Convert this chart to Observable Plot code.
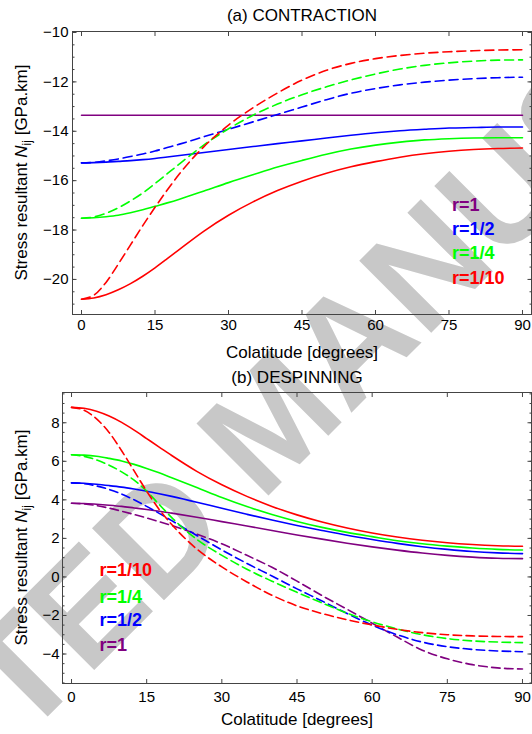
<!DOCTYPE html>
<html><head><meta charset="utf-8">
<script src="https://cdn.jsdelivr.net/npm/d3@7"></script>
<script src="https://cdn.jsdelivr.net/npm/@observablehq/plot@0.6"></script>
<style>
body{margin:0;background:#fff;}
#page{position:relative;width:532px;height:734px;overflow:hidden;font-family:"Liberation Sans",Arial,sans-serif;}
#wm{position:absolute;left:272px;top:420px;transform:translate(-50%,-50%) rotate(-45deg);white-space:nowrap;font:bold 148px "Liberation Sans",Arial,sans-serif;color:#c8c8c8;line-height:1;z-index:0;}
#pa,#pb{position:absolute;left:0;z-index:1;}
#pa{top:0}
#pb{top:365px}
</style></head><body>
<div id="page"><div id="wm">ACCEPTED MANUSCRIPT</div><div id="pa"></div><div id="pb"></div></div>
<script>
// colatitude grid (degrees)
const colat = [0,2.5,5,7.5,10,12.5,15,17.5,20,25,30,35,40,45,50,55,60,65,70,75,80,85,90];

// (a) CONTRACTION
const aSolid_r1    = [-13.35,-13.35,-13.35,-13.35,-13.35,-13.35,-13.35,-13.35,-13.35,-13.35,-13.35,-13.35,-13.35,-13.35,-13.35,-13.35,-13.35,-13.35,-13.35,-13.35,-13.35,-13.35,-13.35];
const aSolid_r1_2  = [-15.28,-15.27,-15.25,-15.22,-15.19,-15.15,-15.10,-15.04,-14.98,-14.86,-14.74,-14.62,-14.50,-14.39,-14.27,-14.16,-14.06,-13.98,-13.92,-13.87,-13.85,-13.83,-13.83];
const aSolid_r1_4  = [-17.52,-17.50,-17.46,-17.40,-17.30,-17.18,-17.04,-16.90,-16.75,-16.42,-16.08,-15.76,-15.45,-15.18,-14.93,-14.72,-14.56,-14.44,-14.35,-14.30,-14.27,-14.26,-14.26];
const aSolid_r1_10 = [-20.80,-20.75,-20.62,-20.42,-20.17,-19.87,-19.53,-19.16,-18.78,-18.04,-17.40,-16.86,-16.40,-16.02,-15.70,-15.44,-15.23,-15.05,-14.91,-14.81,-14.74,-14.70,-14.68];
const aDash_r1_2   = [-15.28,-15.26,-15.20,-15.12,-15.02,-14.92,-14.80,-14.66,-14.52,-14.22,-13.92,-13.62,-13.32,-13.02,-12.72,-12.46,-12.27,-12.12,-12.01,-11.93,-11.87,-11.83,-11.81];
const aDash_r1_4   = [-17.52,-17.47,-17.32,-17.10,-16.82,-16.50,-16.12,-15.72,-15.32,-14.55,-13.90,-13.35,-12.90,-12.52,-12.20,-11.92,-11.68,-11.48,-11.33,-11.23,-11.16,-11.12,-11.11];
const aDash_r1_10  = [-20.80,-20.64,-20.12,-19.38,-18.60,-17.82,-17.08,-16.38,-15.72,-14.62,-13.75,-13.05,-12.45,-11.93,-11.53,-11.25,-11.06,-10.93,-10.84,-10.78,-10.74,-10.71,-10.70];

// (b) DESPINNING
const bSolid_r1    = [3.82,3.81,3.77,3.72,3.66,3.58,3.50,3.41,3.31,3.10,2.87,2.64,2.41,2.18,1.96,1.75,1.56,1.39,1.24,1.12,1.03,0.97,0.95];
const bSolid_r1_2  = [4.88,4.86,4.81,4.74,4.66,4.56,4.45,4.32,4.18,3.88,3.56,3.25,2.95,2.67,2.41,2.16,1.94,1.74,1.57,1.43,1.32,1.25,1.21];
const bSolid_r1_4  = [6.34,6.32,6.26,6.15,6.02,5.84,5.63,5.40,5.15,4.64,4.12,3.65,3.24,2.88,2.57,2.31,2.09,1.88,1.72,1.60,1.50,1.43,1.40];
const bSolid_r1_10 = [8.80,8.75,8.60,8.35,8.02,7.62,7.18,6.74,6.30,5.48,4.78,4.18,3.66,3.22,2.85,2.54,2.28,2.07,1.90,1.77,1.68,1.62,1.59];
const bDash_r1     = [3.82,3.79,3.70,3.57,3.41,3.24,3.06,2.87,2.67,2.22,1.72,1.12,0.50,-0.22,-0.97,-1.68,-2.40,-3.12,-3.80,-4.25,-4.55,-4.72,-4.78];
const bDash_r1_2   = [4.88,4.84,4.72,4.54,4.30,4.00,3.66,3.30,2.92,2.15,1.40,0.70,0.05,-0.62,-1.25,-1.90,-2.50,-3.00,-3.38,-3.62,-3.76,-3.84,-3.88];
const bDash_r1_4   = [6.34,6.26,6.07,5.80,5.45,5.02,4.45,3.76,3.08,1.95,1.12,0.40,-0.22,-0.80,-1.35,-1.88,-2.33,-2.70,-3.00,-3.20,-3.32,-3.38,-3.41];
const bDash_r1_10  = [8.80,8.65,8.20,7.50,6.55,5.50,4.45,3.50,2.72,1.45,0.52,-0.26,-0.95,-1.50,-1.90,-2.22,-2.49,-2.72,-2.89,-3.00,-3.06,-3.09,-3.10];

// series names & colours
const rNames  = ["r=1","r=1/2","r=1/4","r=1/10"];
const rColors = ["#800080","#0000ff","#00ff00","#ff0000"];

// in-plot labels
const legendALabels = ["r=1","r=1/2","r=1/4","r=1/10"];
const legendAY      = [-17.0,-17.98,-18.95,-19.96];
const legendAX      = [75.6,75.6,75.6,75.6];
const legendBLabels = ["r=1/10","r=1/4","r=1/2","r=1"];
const legendBY      = [0.36,-1.06,-2.27,-3.56];
const legendBX      = [5.6,5.6,5.6,5.6];

// ticks
const xTicks  = [0,15,30,45,60,75,90];
const yTicksA = [-20,-18,-16,-14,-12,-10];
const yTicksB = [-4,-2,0,2,4,6,8];

function rows(arrs){
  const out=[];
  arrs.forEach(([name,vals])=>vals.forEach((v,i)=>out.push({x:colat[i],y:v,r:name})));
  return out;
}
const solidA = rows([["r=1",aSolid_r1],["r=1/2",aSolid_r1_2],["r=1/4",aSolid_r1_4],["r=1/10",aSolid_r1_10]]);
const dashA  = rows([["r=1/2",aDash_r1_2],["r=1/4",aDash_r1_4],["r=1/10",aDash_r1_10]]);
const solidB = rows([["r=1",bSolid_r1],["r=1/2",bSolid_r1_2],["r=1/4",bSolid_r1_4],["r=1/10",bSolid_r1_10]]);
const dashB  = rows([["r=1",bDash_r1],["r=1/2",bDash_r1_2],["r=1/4",bDash_r1_4],["r=1/10",bDash_r1_10]]);
const legA = legendALabels.map((t,i)=>({x:legendAX[i],y:legendAY[i],r:t}));
const legB = legendBLabels.map((t,i)=>({x:legendBX[i],y:legendBY[i],r:t}));

const FONT = "Liberation Sans, Arial, sans-serif";
const FRAME = "#444";

function panel({title, solid, dash, leg, xDomain, yDomain, yTicks, height, mt, mb, ml, titleDy, xlabDy, xPad, yPad, dashArr}){
  const yMinor = d3.range(Math.ceil(yDomain[0]*2)/2, yDomain[1], 0.5);
  const svg = Plot.plot({
    width:532, height, marginTop:mt, marginBottom:mb, marginLeft:ml, marginRight:1,
    style:{background:"transparent", fontFamily:FONT, color:"black"},
    x:{domain:xDomain}, y:{domain:yDomain},
    color:{domain:rNames, range:rColors},
    marks:[
      Plot.line(solid,{x:"x",y:"y",z:"r",stroke:"r",strokeWidth:1.6,curve:"monotone-x"}),
      Plot.line(dash,{x:"x",y:"y",z:"r",stroke:"r",strokeWidth:1.6,curve:"monotone-x",strokeDasharray:dashArr}),
      Plot.text(leg,{x:"x",y:"y",text:"r",fill:"r",textAnchor:"start",lineAnchor:"middle",fontWeight:"bold",fontSize:18}),
      Plot.frame({stroke:FRAME,strokeWidth:1}),
      // ticks inside the frame
      Plot.axisX({anchor:"bottom",ticks:xTicks,tickSize:4,dy:-4,text:null,label:null,stroke:FRAME}),
      Plot.axisX({anchor:"top",ticks:xTicks,tickSize:4,dy:4,text:null,label:null,stroke:FRAME}),
      Plot.axisY({anchor:"left",ticks:yTicks,tickSize:4.5,dx:4.5,text:null,label:null,stroke:FRAME}),
      Plot.axisY({anchor:"left",ticks:yMinor,tickSize:2.5,dx:2.5,text:null,label:null,stroke:FRAME}),
      Plot.axisY({anchor:"right",ticks:yTicks,tickSize:4.5,dx:-4.5,text:null,label:null,stroke:FRAME}),
      Plot.axisY({anchor:"right",ticks:yMinor,tickSize:2.5,dx:-2.5,text:null,label:null,stroke:FRAME}),
      // tick labels
      Plot.axisX({anchor:"bottom",ticks:xTicks,tickSize:0,tickPadding:xPad,fontSize:15,label:null}),
      Plot.axisY({anchor:"left",ticks:yTicks,tickSize:0,tickPadding:yPad,fontSize:15,label:null}),
      // title and x label
      Plot.text([title],{frameAnchor:"top",lineAnchor:"bottom",dy:titleDy,fontSize:17}),
      Plot.text(["Colatitude [degrees]"],{frameAnchor:"bottom",lineAnchor:"bottom",dy:xlabDy,fontSize:17})
    ]
  });
  const cy = mt + (height - mt - mb)/2;
  const t = d3.select(svg).append("text")
    .attr("transform",`translate(27,${cy}) rotate(-90)`)
    .attr("text-anchor","middle").attr("font-size",17).attr("fill","black")
    .attr("font-family",FONT);
  t.append("tspan").text("Stress resultant ");
  t.append("tspan").attr("font-style","italic").text("N");
  t.append("tspan").attr("font-size",12).attr("dy",4).text("ij");
  t.append("tspan").attr("dy",-4).text(" [GPa.km]");
  return svg;
}

document.getElementById("pa").append(panel({
  title:"(a) CONTRACTION", solid:solidA, dash:dashA, leg:legA,
  xDomain:[-1.84,91.84], yDomain:[-21.42,-9.96], yTicks:yTicksA,
  height:365, mt:31, mb:51, ml:72, titleDy:-11, xlabDy:43, xPad:5, yPad:4, dashArr:"9,5"
}));
document.getElementById("pb").append(panel({
  title:"(b) DESPINNING", solid:solidB, dash:dashB, leg:legB,
  xDomain:[-1.8,91.8], yDomain:[-5.53,9.57], yTicks:yTicksB,
  height:369, mt:27, mb:51, ml:62, titleDy:-10, xlabDy:41, xPad:8, yPad:3, dashArr:"8.5,4.5"
}));
</script>
</body></html>
